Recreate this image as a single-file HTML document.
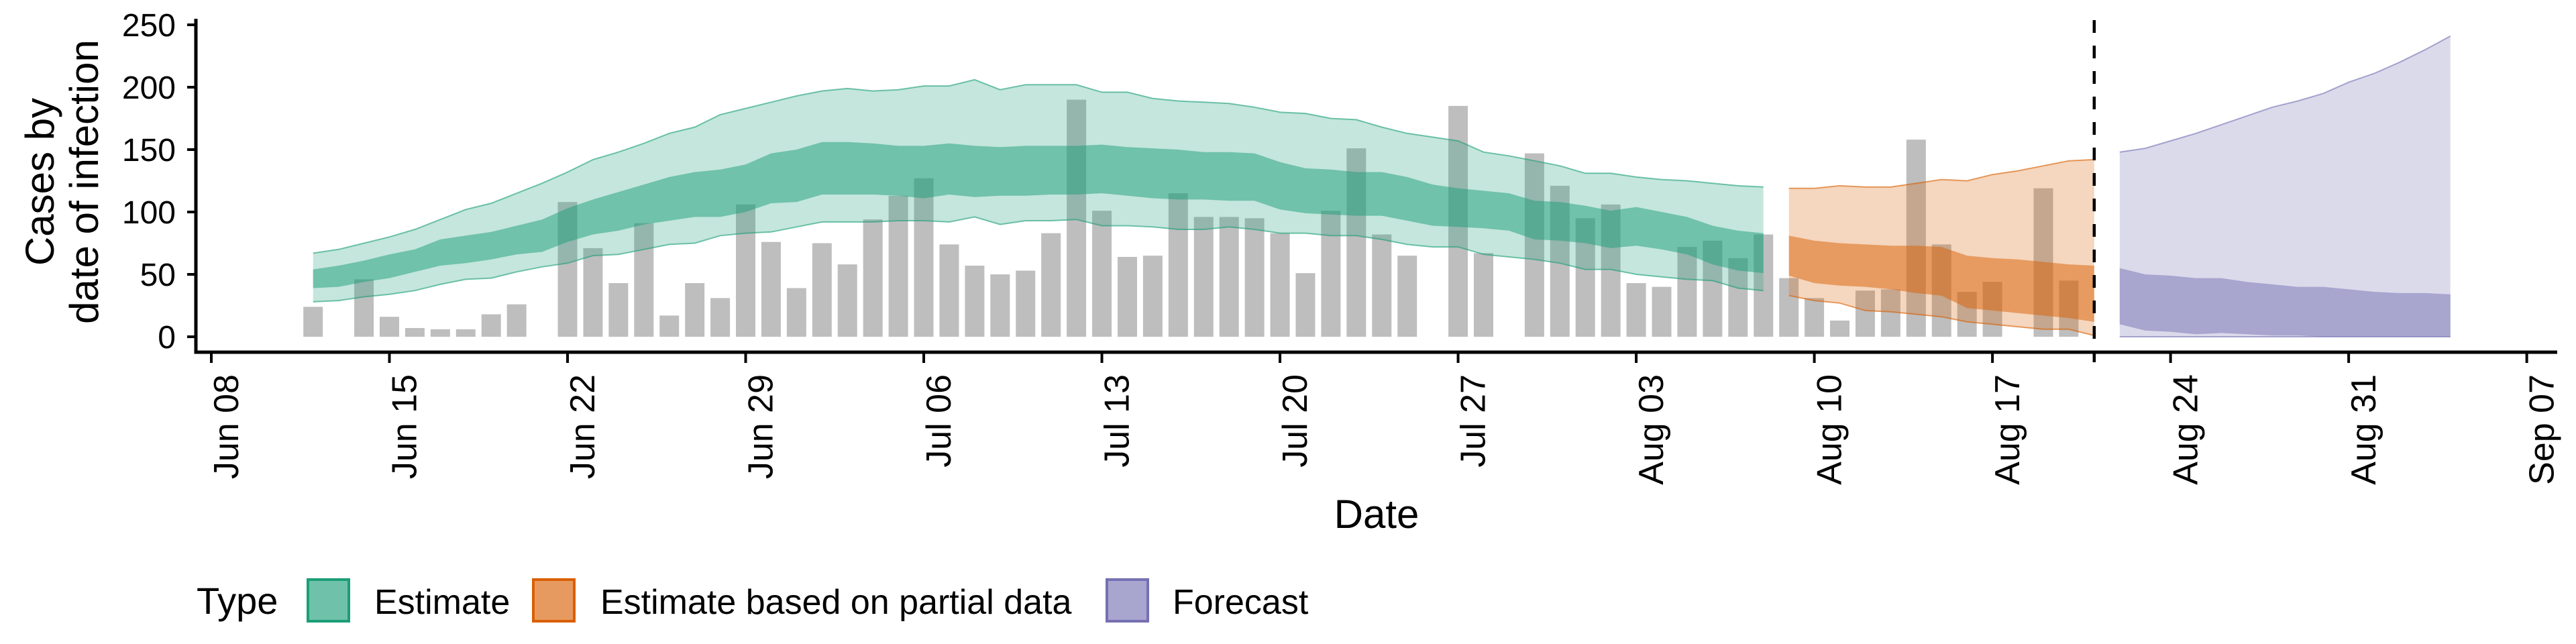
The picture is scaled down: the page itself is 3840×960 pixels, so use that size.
<!DOCTYPE html>
<html><head><meta charset="utf-8"><style>
html,body{margin:0;padding:0;background:#fff;}
svg{display:block;font-family:"Liberation Sans",Arial,sans-serif;}
</style></head><body>
<svg id="chart" width="3840" height="960" viewBox="0 0 3840 960"></svg>
<script>
// Data (days after Jun 08)
const barDays = [4,6,7,8,9,10,11,12,14,15,16,17,18,19,20,21,22,23,24,25,26,27,28,29,30,31,32,33,34,35,36,37,38,39,40,41,42,43,44,45,46,47,49,50,52,53,54,55,56,57,58,59,60,61,62,63,64,65,66,67,68,69,70,72,73];
const barValues = [24,46,16,7,6,6,18,26,108,71,43,91,17,43,31,106,76,39,75,58,94,113,127,74,57,50,53,83,190,101,64,65,115,96,96,95,83,51,101,151,82,65,185,67,147,121,95,106,43,40,72,77,63,82,47,31,13,37,38,158,74,36,44,119,45];

const estDays = [4,5,6,7,8,9,10,11,12,13,14,15,16,17,18,19,20,21,22,23,24,25,26,27,28,29,30,31,32,33,34,35,36,37,38,39,40,41,42,43,44,45,46,47,48,49,50,51,52,53,54,55,56,57,58,59,60,61];
const estUpper90 = [67,70,75,80,86,94,102,107,115,123,132,142,148,155,163,168,178,183,188,193,197,199,197,198,201,201,206,198,202,202,202,196,196,191,189,188,187,184,180,179,175,174,168,163,160,157,148,145,141,137,131,131,128,126,125,123,121,120];
const estUpper50 = [54,57,61,66,70,78,81,84,89,94,103,110,116,122,128,132,134,138,147,150,156,156,155,153,153,155,153,152,153,153,153,154,152,151,150,148,148,147,140,135,134,132,132,128,122,119,117,115,109,108,105,101,104,100,96,89,85,83];
const estLower50 = [39,40,44,47,52,57,59,62,66,68,76,82,85,90,93,96,96,100,107,108,114,114,114,113,111,114,112,113,113,114,114,115,113,111,110,110,109,109,102,99,98,97,97,93,89,88,87,85,78,77,75,71,73,70,66,58,53,51];
const estLower90 = [28,29,32,34,37,42,46,47,52,56,59,65,66,70,74,75,81,83,84,88,92,92,92,93,93,92,96,90,93,93,94,89,89,88,86,86,88,86,83,83,81,81,78,74,72,72,66,64,62,59,54,54,50,48,46,45,39,37];

const partDays = [62,63,64,65,66,67,68,69,70,71,72,73,74];
const partUpper90 = [119,119,121,120,120,123,126,125,130,133,137,141,142];
const partUpper50 = [81,77,75,74,73,73,72,65,63,62,60,58,57];
const partLower50 = [49,43,41,40,38,35,33,23,21,19,17,15,12];
const partLower90 = [33,29,27,21,20,18,16,12,10,8,6,6,1];

const fcDays = [75,76,77,78,79,80,81,82,83,84,85,86,87,88];
const fcUpper90 = [148,151,157,163,170,177,184,189,195,204,211,220,230,241];
const fcUpper50 = [55,50,49,47,47,44,42,40,40,38,36,35,35,34];
const fcLower50 = [10,5,4,2,3,2,1,1,0,0,0,0,0,0];
const fcLower90 = [0,0,0,0,0,0,0,0,0,0,0,0,0,0];

const yTicks = [0,50,100,150,200,250];
const xTickDays = [0,7,14,21,28,35,42,49,56,63,70,77,84,91];
const xTickLabels = ["Jun 08","Jun 15","Jun 22","Jun 29","Jul 06","Jul 13","Jul 20","Jul 27","Aug 03","Aug 10","Aug 17","Aug 24","Aug 31","Sep 07"];
const cutoffDay = 74;

const NS = "http://www.w3.org/2000/svg";
const svg = document.getElementById('chart');
const X = d => 315 + 37.93 * d;
const Y = v => 502 - 1.86 * v;
function mk(tag, attrs, parent){
  const e = document.createElementNS(NS, tag);
  for (const k in attrs) e.setAttribute(k, attrs[k]);
  (parent || svg).appendChild(e);
  return e;
}

// bars
const gBars = mk('g', {});


barDays.forEach((d, i) => {
  const r = mk('rect', {x: X(d) - 14.5, y: Y(barValues[i]), width: 29, height: Y(0) - Y(barValues[i]), fill: '#bebebe'}, gBars);
  
  
});

function band(days, hi, lo, color, op, name, edge){
  let dstr = days.map((d, i) => (i ? 'L' : 'M') + X(d).toFixed(1) + ',' + Y(hi[i]).toFixed(1)).join('');
  for (let i = days.length - 1; i >= 0; i--) dstr += 'L' + X(days[i]).toFixed(1) + ',' + Y(lo[i]).toFixed(1);
  const p = mk('path', {d: dstr + 'Z', fill: color, 'fill-opacity': op});
  
  
  if (edge) {
    const top = days.map((d, i) => (i ? 'L' : 'M') + X(d).toFixed(1) + ',' + Y(hi[i]).toFixed(1)).join('');
    const bot = days.map((d, i) => (i ? 'L' : 'M') + X(d).toFixed(1) + ',' + Y(lo[i]).toFixed(1)).join('');
    const l1 = mk('path', {d: top, fill: 'none', stroke: color, 'stroke-opacity': 0.6, 'stroke-width': 2});
    
    
    const l2 = mk('path', {d: bot, fill: 'none', stroke: color, 'stroke-opacity': 0.6, 'stroke-width': 2});
    
    
  }
}
band(estDays, estUpper90, estLower90, '#1b9e77', 0.26, 'estimate-90-band', true);
band(estDays, estUpper50, estLower50, '#1b9e77', 0.5, 'estimate-50-band', false);
band(partDays, partUpper90, partLower90, '#d95f02', 0.26, 'partial-90-band', true);
band(partDays, partUpper50, partLower50, '#d95f02', 0.5, 'partial-50-band', false);
band(fcDays, fcUpper90, fcLower90, '#7570b3', 0.26, 'forecast-90-band', true);
band(fcDays, fcUpper50, fcLower50, '#7570b3', 0.5, 'forecast-50-band', false);

// cutoff
const cut = mk('line', {x1: X(cutoffDay), x2: X(cutoffDay), y1: 30, y2: 540, stroke: '#000', 'stroke-width': 4.5, 'stroke-dasharray': '19,19'});



// axes
const ya = mk('line', {x1: 292, x2: 292, y1: 28, y2: 527.5, stroke: '#000', 'stroke-width': 5});


const xa = mk('line', {x1: 289.5, x2: 3812, y1: 525, y2: 525, stroke: '#000', 'stroke-width': 5});



yTicks.forEach(v => {
  const t = mk('line', {x1: 279, x2: 292, y1: Y(v), y2: Y(v), stroke: '#000', 'stroke-width': 4});
  
  
  const tx = mk('text', {x: 262, y: Y(v) + 17, 'text-anchor': 'end', 'font-size': 48, fill: '#000'});
  tx.textContent = v;
  
  
});
xTickDays.forEach((d, i) => {
  const t = mk('line', {x1: X(d), x2: X(d), y1: 525, y2: 541, stroke: '#000', 'stroke-width': 4});
  
  
  const tx = mk('text', {transform: 'translate(' + (X(d) + 40) + ',558) rotate(-90)', 'text-anchor': 'end', 'font-size': 52, fill: '#000'});
  tx.textContent = xTickLabels[i];
  
  
});
</script>
<svg width="0" height="0" style="position:absolute"></svg>
<script>
const s2 = document.getElementById('chart');
const NS2 = "http://www.w3.org/2000/svg";
function t2(txt, attrs, name){
  const e = document.createElementNS(NS2, 'text');
  for (const k in attrs) e.setAttribute(k, attrs[k]);
  e.textContent = txt;
  
  
  s2.appendChild(e);
  return e;
}
t2('Cases by', {transform: 'translate(80,271) rotate(-90)', 'text-anchor': 'middle', 'font-size': 60}, 'y-axis-title-line1');
t2('date of infection', {transform: 'translate(146,271) rotate(-90)', 'text-anchor': 'middle', 'font-size': 60}, 'y-axis-title-line2');
t2('Date', {x: 2052, y: 787, 'text-anchor': 'middle', 'font-size': 60}, 'x-axis-title');
t2('Type', {x: 293, y: 915, 'font-size': 56}, 'legend-title');
const keys = [[457, '#1b9e77', 'Estimate', 558, 'legend-estimate'], [793, '#d95f02', 'Estimate based on partial data', 895, 'legend-partial'], [1648, '#7570b3', 'Forecast', 1748, 'legend-forecast']];
keys.forEach(k => {
  const r = document.createElementNS(NS2, 'rect');
  r.setAttribute('x', k[0] + 2); r.setAttribute('y', 864); r.setAttribute('width', 61); r.setAttribute('height', 62);
  r.setAttribute('fill', k[1]); r.setAttribute('fill-opacity', 0.63);
  r.setAttribute('stroke', k[1]); r.setAttribute('stroke-width', 4);
  
  
  s2.appendChild(r);
  t2(k[2], {x: k[3], y: 915, 'font-size': 52}, k[4] + '-label');
});
</script>
</body></html>
